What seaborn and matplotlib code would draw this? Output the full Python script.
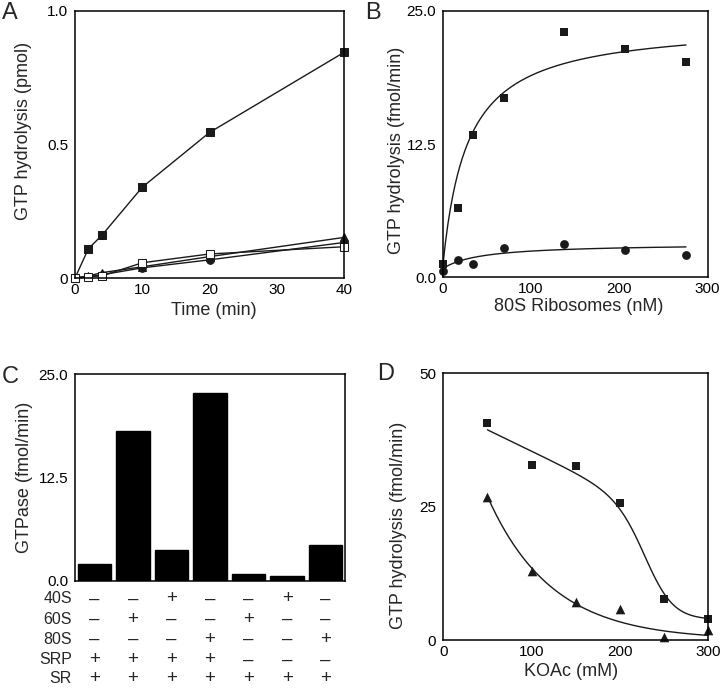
import numpy as np
import matplotlib
matplotlib.use("Agg")
import matplotlib.pyplot as plt
import seaborn as sns
from matplotlib.ticker import MultipleLocator, FixedLocator

# panel A: GTP hydrolysis time course (pmol)
time_min = [0, 2, 4, 10, 20, 40]
a_filled_sq = [0, 0.11, 0.16, 0.34, 0.545, 0.845]
a_open_sq = [0, 0.005, 0.008, 0.057, 0.09, 0.117]
a_triangle = [0, 0.008, 0.02, 0.042, 0.08, 0.152]
a_circle = [0, 0.005, 0.012, 0.038, 0.068, 0.133]

# panel B: 80S titration (fmol/min)
ribo_nM = [0, 17, 34, 69, 138, 207, 276]
b_squares = [1.25, 6.5, 13.3, 16.8, 23.0, 21.4, 20.2]
b_circles = [0.55, 1.6, 1.25, 2.7, 3.1, 2.55, 2.07]
# hyperbolic fits: offset, Vmax, Km
b_sq_fit = (1.2, 22.7, 28.0)
b_ci_fit = (0.8, 2.35, 43.8)

# panel C: GTPase with subunits
c_values = [2.0, 18.2, 3.8, 22.7, 0.8, 0.6, 4.4]
c_rows = ["40S", "60S", "80S", "SRP", "SR"]
c_signs = [
    ["–", "–", "+", "–", "–", "+", "–"],
    ["–", "+", "–", "–", "+", "–", "–"],
    ["–", "–", "–", "+", "–", "–", "+"],
    ["+", "+", "+", "+", "–", "–", "–"],
    ["+", "+", "+", "+", "+", "+", "+"],
]

# panel D: salt dependence
koac_mM = [50, 100, 150, 200, 250, 300]
d_squares = [40.6, 32.8, 32.7, 25.7, 7.6, 4.0]
d_triangles = [26.9, 12.9, 7.2, 5.75, 0.6, 1.9]
# fits: sigmoid (top, slope, floor, mid, width) and exponential (amp, k)
d_sq_fit = (43.4, 0.08, 3.8, 232.0, 16.3)
d_tri_fit = (26.9, 0.0138)

sns.set_theme(style="white")
plt.rcParams["font.family"] = ["Liberation Sans", "DejaVu Sans"]
plt.rcParams["xtick.direction"] = "in"
plt.rcParams["ytick.direction"] = "in"
plt.rcParams["axes.edgecolor"] = "black"
plt.rcParams["axes.linewidth"] = 1.1

fig = plt.figure(figsize=(7.2, 6.91), dpi=100)

def style_axes(ax):
    ax.tick_params(which="major", length=3.5, width=0.8, labelsize=11, colors="black")
    ax.tick_params(which="minor", length=2.5, width=0.8)
    ax.tick_params(axis="y", pad=5)
    ax.tick_params(axis="x", pad=3.5)
    ax.xaxis.label.set_size(13)
    ax.yaxis.label.set_size(13)

lw = 1.0

# ---- A ----
axA = fig.add_axes([75/720, 1-278/691, 269/720, 267/691])
sns.lineplot(x=time_min, y=a_filled_sq, ax=axA, color="k", lw=lw, marker="s", markersize=5.5,
             markerfacecolor="k", markeredgecolor="k", clip_on=False)
sns.lineplot(x=time_min, y=a_circle, ax=axA, color="k", lw=lw, marker="o", markersize=5.5,
             markerfacecolor="k", markeredgecolor="k", clip_on=False)
sns.lineplot(x=time_min, y=a_triangle, ax=axA, color="k", lw=lw, marker="^", markersize=6,
             markerfacecolor="k", markeredgecolor="k", clip_on=False)
sns.lineplot(x=time_min, y=a_open_sq, ax=axA, color="k", lw=lw, marker="s", markersize=5.5,
             markerfacecolor="white", markeredgecolor="k", clip_on=False)
axA.set_xlim(0, 40)
axA.set_ylim(0, 1.0)
axA.set_xticks([0, 10, 20, 30, 40])
axA.set_yticks([0, 0.5, 1.0])
axA.set_yticklabels(["0", "0.5", "1.0"])
axA.yaxis.set_minor_locator(FixedLocator([0.25, 0.75]))
axA.set_xlabel("Time (min)")
axA.set_ylabel("GTP hydrolysis (pmol)")
style_axes(axA)
axA.xaxis.set_label_coords(0.517, -0.089)
axA.yaxis.set_label_coords(-0.16, 0.551)

# ---- B ----
axB = fig.add_axes([443/720, 1-277/691, 265/720, 266/691])
xs = np.linspace(0, ribo_nM[-1], 200)
sns.lineplot(x=xs, y=b_sq_fit[0] + b_sq_fit[1]*xs/(b_sq_fit[2]+xs), ax=axB, color="k", lw=lw)
sns.lineplot(x=xs, y=b_ci_fit[0] + b_ci_fit[1]*xs/(b_ci_fit[2]+xs), ax=axB, color="k", lw=lw)
sns.scatterplot(x=ribo_nM, y=b_squares, ax=axB, marker="s", s=40, color="k", linewidth=0, clip_on=False)
sns.scatterplot(x=ribo_nM, y=b_circles, ax=axB, marker="o", s=40, color="k", linewidth=0, clip_on=False)
axB.set_xlim(0, 301)
axB.set_ylim(0, 25)
axB.set_xticks([0, 100, 200, 300])
axB.xaxis.set_minor_locator(MultipleLocator(50))
axB.set_yticks([0, 12.5, 25])
axB.set_yticklabels(["0.0", "12.5", "25.0"])
axB.yaxis.set_minor_locator(FixedLocator([6.25, 18.75]))
axB.set_xlabel("80S Ribosomes (nM)")
axB.set_ylabel("GTP hydrolysis (fmol/min)")
style_axes(axB)
axB.xaxis.set_label_coords(0.513, -0.079)
axB.yaxis.set_label_coords(-0.143, 0.477)

# ---- C ----
axC = fig.add_axes([75/720, 1-581/691, 270/720, 206.7/691])
cond = [str(i) for i in range(len(c_values))]
sns.barplot(x=cond, y=c_values, ax=axC, color="black", width=0.87, edgecolor="black",
            saturation=1)
axC.set_xlim(-0.5, len(c_values) - 0.5)
axC.set_ylim(0, 25)
axC.set_yticks([0, 12.5, 25])
axC.set_yticklabels(["0.0", "12.5", "25.0"])
axC.yaxis.set_minor_locator(FixedLocator([6.25, 18.75]))
axC.set_xticks([])
axC.set_xlabel("")
axC.set_ylabel("GTPase (fmol/min)")
style_axes(axC)
axC.yaxis.set_label_coords(-0.154, 0.5)
row_y = [-0.087, -0.184, -0.281, -0.382, -0.474]
for r, name in enumerate(c_rows):
    axC.text(-0.012, row_y[r], name, transform=axC.transAxes, ha="right", va="center", fontsize=11.5)
    for i, s in enumerate(c_signs[r]):
        axC.text(i, row_y[r], s, transform=axC.get_xaxis_transform(), ha="center", va="center",
                 fontsize=13.5)

# ---- D ----
axD = fig.add_axes([443.3/720, 1-640/691, 265/720, 266.7/691])
xd = np.linspace(koac_mM[0], koac_mM[-1], 200)
top, slope, floor, mid, width = d_sq_fit
sig = 1/(1+np.exp((xd-mid)/width))
sns.lineplot(x=xd, y=floor + (top - slope*xd - floor)*sig, ax=axD, color="k", lw=lw)
sns.lineplot(x=xd, y=d_tri_fit[0]*np.exp(-d_tri_fit[1]*(xd-koac_mM[0])), ax=axD, color="k", lw=lw)
sns.scatterplot(x=koac_mM, y=d_squares, ax=axD, marker="s", s=36, color="k", linewidth=0, clip_on=False)
sns.scatterplot(x=koac_mM, y=d_triangles, ax=axD, marker="^", s=48, color="k", linewidth=0, clip_on=False)
axD.set_xlim(0, 300)
axD.set_ylim(0, 50)
axD.set_xticks([0, 100, 200, 300])
axD.xaxis.set_minor_locator(MultipleLocator(50))
axD.set_yticks([0, 25, 50])
axD.set_xlabel("KOAc (mM)")
axD.set_ylabel("GTP hydrolysis (fmol/min)")
style_axes(axD)
axD.xaxis.set_label_coords(0.484, -0.087)
axD.yaxis.set_label_coords(-0.138, 0.431)

for lab, (x, y) in zip("ABCD", [(2, 2), (365, 2), (2, 366), (377, 363)]):
    fig.text(x/720, 1-y/691, lab, fontsize=17, ha="left", va="top")

fig.savefig("out.png", dpi=100)
